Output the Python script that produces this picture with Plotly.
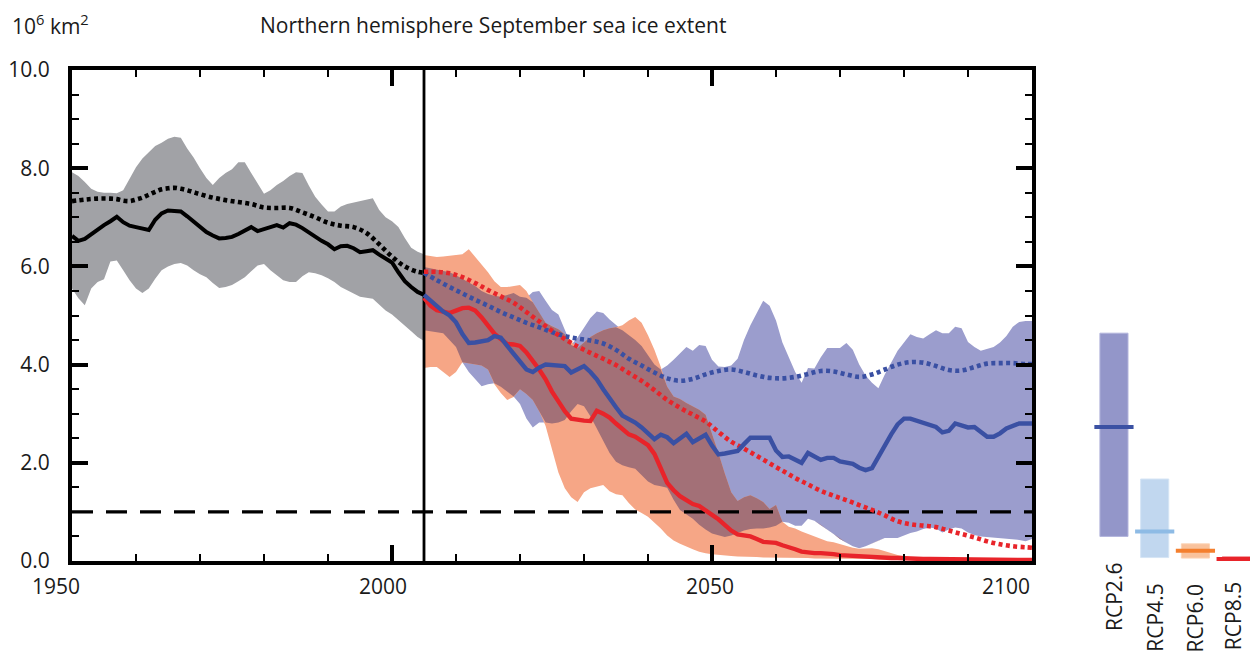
import numpy as np
import plotly.graph_objects as go

# ---------------- historical period (1950-2005) ----------------
HIST_YEARS = list(range(1950, 2006))
HIST_MEAN = [6.62, 6.52, 6.56, 6.66, 6.75, 6.84, 6.92, 7.01, 6.90, 6.83,
             6.80, 6.78, 6.74, 6.95, 7.08, 7.14, 7.14, 7.12, 7.02, 6.92,
             6.80, 6.70, 6.63, 6.57, 6.58, 6.60, 6.66, 6.72, 6.80, 6.72,
             6.77, 6.80, 6.84, 6.79, 6.88, 6.85, 6.78, 6.69, 6.60, 6.52,
             6.45, 6.35, 6.41, 6.42, 6.37, 6.29, 6.31, 6.33, 6.24, 6.16,
             6.08, 5.88, 5.70, 5.58, 5.48, 5.42]
HIST_HIGH = [7.92, 7.84, 7.72, 7.58, 7.52, 7.50, 7.50, 7.49, 7.55, 7.80,
             8.02, 8.20, 8.32, 8.45, 8.52, 8.60, 8.64, 8.62, 8.40, 8.22,
             8.00, 7.80, 7.66, 7.80, 7.90, 7.98, 8.12, 8.12, 7.90, 7.68,
             7.48, 7.55, 7.66, 7.74, 7.84, 7.92, 7.90, 7.65, 7.42, 7.26,
             7.12, 7.12, 7.22, 7.27, 7.30, 7.33, 7.36, 7.39, 7.15, 7.00,
             6.92, 6.80, 6.58, 6.38, 6.30, 6.25]
HIST_LOW = [5.55, 5.35, 5.21, 5.55, 5.68, 5.74, 6.10, 6.12, 5.92, 5.72,
            5.55, 5.46, 5.55, 5.75, 5.92, 6.00, 6.05, 6.07, 6.02, 5.92,
            5.84, 5.78, 5.66, 5.56, 5.58, 5.62, 5.70, 5.78, 5.90, 6.02,
            6.05, 5.92, 5.82, 5.72, 5.68, 5.68, 5.80, 5.88, 5.86, 5.82,
            5.76, 5.68, 5.58, 5.52, 5.45, 5.38, 5.36, 5.34, 5.22, 5.10,
            5.02, 4.92, 4.80, 4.68, 4.56, 4.48]
# all-model mean (dotted)
HIST_ALL_YEARS = [1950, 1952, 1954, 1956, 1957, 1958, 1959, 1960, 1961, 1962,
                  1963, 1964, 1965, 1966, 1967, 1968, 1969, 1970, 1972, 1974,
                  1976, 1978, 1980, 1982, 1984, 1986, 1988, 1990, 1992, 1994,
                  1996, 1998, 2000, 2002, 2004, 2005]
HIST_ALL_MEAN = [7.33, 7.36, 7.38, 7.38, 7.37, 7.34, 7.33, 7.36, 7.40, 7.46,
                 7.52, 7.57, 7.59, 7.60, 7.58, 7.55, 7.51, 7.47, 7.40, 7.35,
                 7.31, 7.27, 7.20, 7.19, 7.19, 7.10, 7.00, 6.89, 6.83, 6.80,
                 6.68, 6.45, 6.20, 6.00, 5.89, 5.87]

# ---------------- projections (2005-2100) ----------------
PROJ_YEARS = list(range(2005, 2101))
RCP26_MEAN = [5.42, 5.30, 5.18, 5.08, 5.00, 4.86, 4.62, 4.44, 4.45, 4.47,
              4.50, 4.58, 4.55, 4.38, 4.22, 4.05, 3.90, 3.85, 3.94, 4.00,
              3.99, 3.98, 3.97, 3.84, 3.90, 3.97, 3.85, 3.70, 3.50, 3.30,
              3.13, 2.96, 2.90, 2.82, 2.72, 2.60, 2.48, 2.57, 2.52, 2.40,
              2.50, 2.59, 2.42, 2.50, 2.57, 2.35, 2.17, 2.19, 2.22, 2.24,
              2.38, 2.51, 2.51, 2.51, 2.51, 2.25, 2.12, 2.13, 2.06, 2.00,
              2.20, 2.12, 2.06, 2.10, 2.10, 2.03, 2.01, 1.98, 1.90, 1.85,
              1.89, 2.12, 2.38, 2.58, 2.78, 2.90, 2.90, 2.86, 2.82, 2.77,
              2.73, 2.62, 2.65, 2.80, 2.77, 2.72, 2.73, 2.62, 2.53, 2.53,
              2.60, 2.70, 2.76, 2.80, 2.80, 2.80]
RCP26_HIGH = [5.99, 5.96, 5.93, 5.91, 5.88, 5.82, 5.75, 5.68, 5.60, 5.50,
              5.44, 5.40, 5.38, 5.42, 5.46, 5.38, 5.36, 5.48, 5.50, 5.30,
              5.11, 5.02, 4.72, 4.40, 4.55, 4.75, 4.95, 5.08, 5.05, 4.92,
              4.80, 4.70, 4.60, 4.50, 4.38, 4.20, 4.00, 3.90, 3.98, 4.10,
              4.22, 4.36, 4.28, 4.40, 4.38, 4.10, 3.96, 3.95, 3.98, 4.12,
              4.50, 4.80, 5.05, 5.30, 5.20, 4.90, 4.45, 4.15, 3.85, 3.63,
              3.93, 3.92, 4.15, 4.34, 4.34, 4.34, 4.44, 4.30, 4.00, 3.78,
              3.63, 3.52, 3.80, 4.05, 4.28, 4.45, 4.62, 4.56, 4.53, 4.62,
              4.70, 4.64, 4.64, 4.77, 4.74, 4.46, 4.36, 4.28, 4.32, 4.36,
              4.45, 4.58, 4.77, 4.87, 4.89, 4.89]
RCP26_LOW = [4.70, 4.68, 4.66, 4.64, 4.50, 4.36, 4.05, 3.85, 3.70, 3.56,
             3.60, 3.62, 3.55, 3.45, 3.35, 3.20, 2.90, 2.72, 2.82, 2.82,
             2.80, 2.82, 2.87, 3.05, 3.20, 3.15, 2.95, 2.70, 2.45, 2.20,
             2.02, 1.95, 1.91, 1.88, 1.75, 1.62, 1.55, 1.52, 1.49, 1.25,
             1.04, 0.95, 0.86, 0.74, 0.64, 0.56, 0.52, 0.49, 0.52, 0.57,
             0.62, 0.65, 0.66, 0.66, 0.68, 0.72, 0.80, 0.78, 0.72, 0.72,
             0.86, 0.82, 0.74, 0.64, 0.55, 0.45, 0.37, 0.30, 0.26, 0.30,
             0.36, 0.42, 0.47, 0.47, 0.47, 0.52, 0.57, 0.60, 0.65, 0.68,
             0.66, 0.58, 0.64, 0.68, 0.66, 0.58, 0.53, 0.50, 0.49, 0.48,
             0.47, 0.46, 0.44, 0.43, 0.40, 0.45]
RCP85_MEAN = [5.36, 5.20, 5.11, 5.07, 5.05, 5.10, 5.15, 5.16, 5.10, 4.96,
              4.80, 4.63, 4.52, 4.42, 4.41, 4.38, 4.25, 4.08, 3.90, 3.70,
              3.45, 3.25, 3.05, 2.90, 2.87, 2.86, 2.85, 3.06, 3.00, 2.92,
              2.80, 2.68, 2.58, 2.53, 2.45, 2.36, 2.18, 1.90, 1.59, 1.44,
              1.32, 1.24, 1.16, 1.12, 1.02, 0.94, 0.85, 0.74, 0.62, 0.54,
              0.52, 0.50, 0.45, 0.39, 0.38, 0.37, 0.32, 0.29, 0.24, 0.19,
              0.17, 0.16, 0.16, 0.16, 0.14, 0.12, 0.11, 0.10, 0.09, 0.09,
              0.08, 0.08, 0.07, 0.06, 0.06, 0.05, 0.05, 0.05, 0.04, 0.04,
              0.04, 0.04, 0.04, 0.04, 0.04, 0.03, 0.03, 0.03, 0.03, 0.03,
              0.03, 0.03, 0.02, 0.02, 0.02, 0.02]
RCP85_HIGH = [6.23, 6.21, 6.19, 6.20, 6.22, 6.23, 6.25, 6.35, 6.20, 6.05,
              5.88, 5.70, 5.58, 5.58, 5.60, 5.62, 5.50, 5.27, 5.05, 4.85,
              4.78, 4.72, 4.62, 4.48, 4.34, 4.45, 4.56, 4.64, 4.70, 4.74,
              4.76, 4.80, 4.90, 4.97, 4.85, 4.60, 4.30, 3.95, 3.55, 3.35,
              3.30, 3.22, 3.15, 3.08, 2.98, 2.60, 2.20, 1.78, 1.40, 1.22,
              1.30, 1.34, 1.28, 1.20, 1.06, 1.14, 0.80, 0.70, 0.66, 0.60,
              0.55, 0.50, 0.44, 0.40, 0.38, 0.34, 0.30, 0.27, 0.25, 0.25,
              0.26, 0.24, 0.20, 0.16, 0.12, 0.10, 0.08, 0.08, 0.07, 0.07,
              0.06, 0.06, 0.06, 0.06, 0.05, 0.05, 0.05, 0.05, 0.05, 0.04,
              0.04, 0.04, 0.04, 0.04, 0.04, 0.04]
RCP85_LOW = [3.93, 3.95, 3.95, 3.85, 3.75, 3.85, 4.05, 4.02, 4.00, 3.98,
             3.90, 3.60, 3.42, 3.28, 3.34, 3.50, 3.40, 3.28, 3.05, 2.75,
             2.25, 1.80, 1.48, 1.30, 1.20, 1.40, 1.48, 1.52, 1.55, 1.42,
             1.36, 1.34, 1.18, 1.05, 0.98, 0.90, 0.78, 0.66, 0.52, 0.42,
             0.35, 0.29, 0.24, 0.19, 0.16, 0.14, 0.12, 0.11, 0.10, 0.09,
             0.09, 0.08, 0.08, 0.07, 0.07, 0.06, 0.06, 0.06, 0.06, 0.06,
             0.06, 0.05, 0.05, 0.05, 0.05, 0.05, 0.04, 0.04, 0.04, 0.04,
             0.04, 0.03, 0.03, 0.03, 0.03, 0.03, 0.03, 0.03, 0.03, 0.03,
             0.03, 0.02, 0.02, 0.02, 0.02, 0.02, 0.02, 0.02, 0.02, 0.02,
             0.02, 0.02, 0.02, 0.02, 0.02, 0.02]
# all-model means (dotted)
PROJ_ALL_YEARS = list(range(2005, 2100, 2)) + [2100]
RCP26_ALL_MEAN = [5.87, 5.72, 5.58, 5.45, 5.32, 5.20, 5.07, 4.96, 4.85, 4.76,
                  4.66, 4.58, 4.53, 4.49, 4.43, 4.30, 4.12, 3.98, 3.84, 3.72,
                  3.67, 3.71, 3.80, 3.87, 3.90, 3.85, 3.78, 3.73, 3.72, 3.75,
                  3.81, 3.87, 3.86, 3.80, 3.75, 3.80, 3.90, 4.00, 4.05, 4.04,
                  3.97, 3.89, 3.88, 3.95, 4.02, 4.03, 4.03, 4.01, 4.01]
RCP85_ALL_MEAN = [5.89, 5.89, 5.86, 5.78, 5.66, 5.52, 5.39, 5.26, 5.07, 4.88,
                  4.69, 4.52, 4.37, 4.24, 4.12, 3.99, 3.83, 3.67, 3.48, 3.28,
                  3.12, 2.98, 2.84, 2.63, 2.43, 2.29, 2.14, 1.99, 1.84, 1.69,
                  1.56, 1.43, 1.33, 1.24, 1.14, 1.04, 0.93, 0.81, 0.75, 0.72,
                  0.69, 0.62, 0.55, 0.48, 0.40, 0.34, 0.30, 0.28, 0.27]

THRESHOLD = 1.0
SPLIT_YEAR = 2005

# ---------------- 2081-2100 ranges per scenario ----------------
SCENARIOS = ["RCP2.6", "RCP4.5", "RCP6.0", "RCP8.5"]
END_LOW = [0.50, 0.07, 0.06, 0.00]
END_HIGH = [4.64, 1.67, 0.35, 0.08]
END_MEAN = [2.73, 0.60, 0.21, 0.04]

# ---------------- styling ----------------
FONT = "Open Sans"
FS = 21
TXT = "#1a1a1a"
GREY_BAND = "#a1a2a6"
BLUE_BAND = "#9b9dcd"
ORANGE_BAND = "#f6a686"
OVERLAP = "#a37077"
BLUE_LINE = "#3a50a3"
RED_LINE = "#e8242a"
BAR_FILL = ["#9396c9", "#c1d7ef", "#f9c29c", "#e8242a"]
BAR_EDGE = ["#b3b5dc", "#d6e5f5", "#fbd3b5", "#e8242a"]
BAR_MEAN = ["#3b51a3", "#8ebbe5", "#f47f2e", "#e8242a"]

fig = go.Figure()


def band(xs, lo, hi, color):
    xs = list(xs)
    fig.add_trace(go.Scatter(
        x=xs + xs[::-1], y=list(hi) + list(lo)[::-1],
        fill="toself", fillcolor=color, mode="lines",
        line=dict(width=0, color=color), hoverinfo="skip"))


def line(xs, ys, color, width, dash="solid", **kw):
    fig.add_trace(go.Scatter(x=xs, y=ys, mode="lines",
                             line=dict(color=color, width=width, dash=dash),
                             hoverinfo="skip", **kw))


# model spread envelopes
band(HIST_YEARS, HIST_LOW, HIST_HIGH, GREY_BAND)
band(PROJ_YEARS, RCP26_LOW, RCP26_HIGH, BLUE_BAND)
band(PROJ_YEARS, RCP85_LOW, RCP85_HIGH, ORANGE_BAND)

# where the two scenario envelopes overlap
ov_lo = np.maximum(RCP26_LOW, RCP85_LOW)
ov_hi = np.maximum(np.minimum(RCP26_HIGH, RCP85_HIGH), ov_lo)
band(PROJ_YEARS, ov_lo, ov_hi, OVERLAP)

DOT = "4px,3.4px"

# historical means
line(HIST_ALL_YEARS, HIST_ALL_MEAN, "black", 4.6, DOT, line_shape="spline")
line(HIST_YEARS, HIST_MEAN, "black", 4.0)

# 1 million km2 threshold and start of the projections
line([1950, 2100], [THRESHOLD, THRESHOLD], "black", 3.4, "21px,13px")
line([SPLIT_YEAR, SPLIT_YEAR], [0, 10], "black", 2.8)

# projection means
line(PROJ_ALL_YEARS, RCP26_ALL_MEAN, BLUE_LINE, 4.6, DOT, line_shape="spline")
line(PROJ_ALL_YEARS, RCP85_ALL_MEAN, RED_LINE, 4.6, DOT, line_shape="spline")
line(PROJ_YEARS, RCP85_MEAN, RED_LINE, 4.4)
line(PROJ_YEARS, RCP26_MEAN, BLUE_LINE, 4.4)

# end-of-century ranges beside the main panel
cats = list(range(len(SCENARIOS)))
fig.add_trace(go.Bar(
    x=cats, y=[h - l for h, l in zip(END_HIGH, END_LOW)], base=END_LOW,
    width=0.69, marker=dict(color=BAR_FILL, line=dict(color=BAR_EDGE, width=1)),
    xaxis="x2", yaxis="y2", hoverinfo="skip"))
fig.add_trace(go.Scatter(
    x=cats, y=END_MEAN, mode="markers", xaxis="x2", yaxis="y2",
    marker=dict(symbol="line-ew", size=28,
                line=dict(color=BAR_MEAN, width=4)),
    hoverinfo="skip"))

PLOT_W = 1250 - 72
MAIN_W = 960

tick_common = dict(showgrid=False, zeroline=False, showline=True,
                   linecolor="black", linewidth=4, mirror="allticks",
                   ticks="inside", ticklen=16, tickwidth=4, tickcolor="black")

fig.update_layout(
    width=1250, height=653,
    margin=dict(l=72, r=0, t=70, b=92),
    paper_bgcolor="white", plot_bgcolor="white",
    showlegend=False,
    font=dict(family=FONT, size=FS, color=TXT),
    xaxis=dict(domain=[0, MAIN_W / PLOT_W], range=[1950, 2100],
               tick0=1950, dtick=50, showticklabels=False,
               minor=dict(ticks="inside", dtick=10, ticklen=7, tickwidth=2,
                          tickcolor="black", showgrid=False),
               **tick_common),
    yaxis=dict(range=[0, 10], tick0=0, dtick=2, tickformat=".1f",
               ticklabelstandoff=14, tickfont=dict(size=FS, color=TXT),
               minor=dict(ticks="inside", dtick=0.5, ticklen=7, tickwidth=2,
                          tickcolor="black", showgrid=False),
               **tick_common),
    xaxis2=dict(domain=[(1094 - 72) / PLOT_W, 1.0], range=[-0.49, 3.34],
                visible=False, anchor="y2"),
    yaxis2=dict(range=[0, 10], visible=False, anchor="x2"),
)

annotations = []
# x tick labels
X_LABELS = [1950, 2000, 2050, 2100]
X_LABEL_SHIFT = [-16, -9, -2, -26]
for yr, sh in zip(X_LABELS, X_LABEL_SHIFT):
    annotations.append(dict(x=yr, y=0, xref="x", yref="paper", text=str(yr),
                            showarrow=False, xanchor="center", yanchor="top",
                            xshift=sh, yshift=-9,
                            font=dict(size=FS, color=TXT)))
# scenario labels under the bars
LABEL_DROP = [0, -21, -21, -19]
LABEL_SIDE = [0, 0, 0, -3]
for i, (name, dy, dx) in enumerate(zip(SCENARIOS, LABEL_DROP, LABEL_SIDE)):
    annotations.append(dict(x=i, y=0, xref="x2", yref="y2", text=name,
                            showarrow=False, textangle=-90,
                            xanchor="center", yanchor="top",
                            yshift=dy, xshift=dx,
                            font=dict(size=FS, color=TXT)))
# title and unit
annotations.append(dict(x=(258 - 72) / PLOT_W, y=1 + 45 / 491, xref="paper",
                        yref="paper", text="Northern hemisphere September sea ice extent",
                        showarrow=False, xanchor="left", yanchor="middle",
                        font=dict(size=FS, color=TXT)))
annotations.append(dict(x=(10 - 72) / PLOT_W, y=1 + 45 / 491, xref="paper",
                        yref="paper", text="10<sup>6</sup> km<sup>2</sup>",
                        showarrow=False, xanchor="left", yanchor="middle",
                        font=dict(size=FS, color=TXT)))
fig.update_layout(annotations=annotations)

fig.write_html("out.html")
